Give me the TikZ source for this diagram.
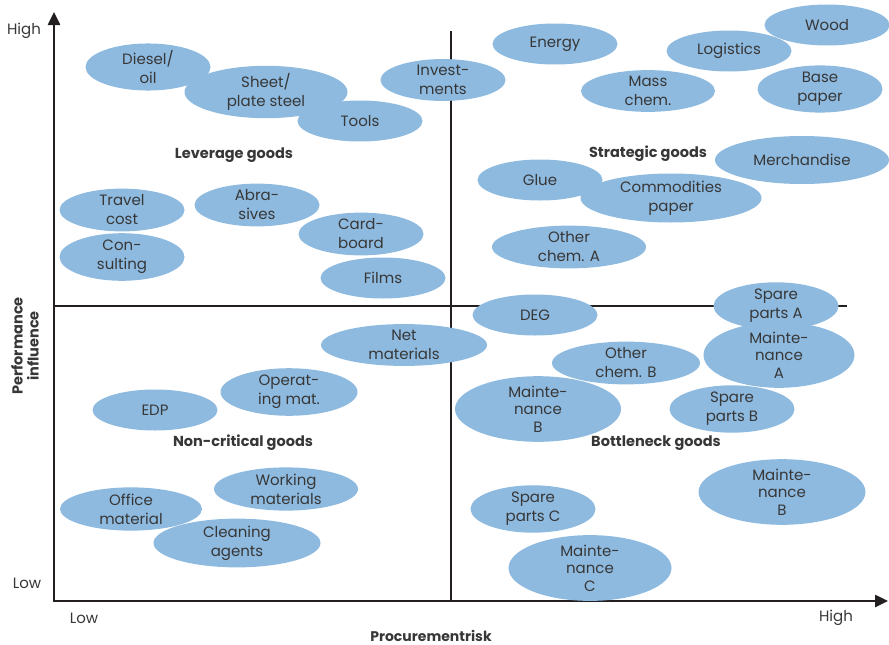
\documentclass[tikz,border=0pt]{standalone}
\usepackage{fontspec}
\setmainfont{Poppins}
\usepackage{xcolor}
\usetikzlibrary{arrows.meta,shapes.geometric}
\definecolor{goodblue}{RGB}{142,186,224}
\definecolor{axisgray}{RGB}{35,31,32}
\definecolor{textgray}{RGB}{55,55,55}

\begin{document}
\begin{tikzpicture}[
  x=1pt, y=-1pt,
  font=\fontsize{15}{19}\selectfont,
  good/.style={ellipse, fill=goodblue, inner sep=0pt, align=center, text=textgray,
    minimum width=125pt, minimum height=41pt},
  three/.style={font=\fontsize{15}{17.5}\selectfont},
  quad/.style={font=\fontsize{14.5}{16}\selectfont\bfseries, text=textgray, align=center},
  tick/.style={text=textgray},
  axis/.style={draw=axisgray, line width=2.5pt}
]
\useasboundingbox (0,0) rectangle (889,645);
% axes and quadrant lines
\coordinate (origin) at (54,601);
\coordinate (ytip) at (54,12);
\coordinate (xtip) at (888,601);
\coordinate (midtop) at (451,31);
\coordinate (midbot) at (451,601);
\coordinate (midleft) at (54,306);
\coordinate (midright) at (847,306);
\draw[axis, line width=2pt] (midtop) -- (midbot);
\draw[axis, line width=2pt] (midleft) -- (midright);
\draw[axis, {Triangle[length=13pt,width=12pt]}-{Triangle[length=13pt,width=12pt]}] (ytip) -- (origin) -- (xtip);

% axis texts
\node[tick] (yhigh) at (24,31) {High};
\node[tick] (ylow) at (27,583) {Low};
\node[tick] (xlow) at (84,618) {Low};
\node[tick] (xhigh) at (836,618) {High};
\node[quad, font=\fontsize{14}{16}\selectfont\bfseries] (xlabel) at (431,636) {Procurementrisk};
\node[quad, rotate=90, font=\fontsize{14.5}{16}\selectfont\bfseries] (ylabel) at (25,346) {Performance\\influence};

% leverage goods
\node[good] (diesel) at (148,67) {Diesel/\\oil};
\node[good] (tools) at (360,121) {Tools};
\node[good, minimum width=163pt, minimum height=40pt] (sheet) at (266,92) {Sheet/\\plate steel};
\node[good] (invest) at (443,80) {Invest-\\ments};
\node[good] (travel) at (122,210) {Travel\\cost};
\node[good] (consult) at (122,257) {Con-\\sulting};
\node[good] (abrasives) at (257,205) {Abra-\\sives};
\node[good] (cardboard) at (361,234) {Card-\\board};
\node[good] (films) at (383,278) {Films};
\node[quad] (leverage) at (234,155) {Leverage goods};

% strategic goods
\node[good] (energy) at (555,44) {Energy};
\node[good] (wood) at (827,25) {Wood};
\node[good] (logistics) at (729,51) {Logistics};
\node[good, minimum width=134pt] (masschem) at (648,91) {Mass\\chem.};
\node[good] (basepaper) at (820,89) {Base\\paper};
\node[good, minimum width=174pt, minimum height=48pt] (merch) at (802,160) {Merchandise};
\node[good] (glue) at (540,180) {Glue};
\node[good, minimum width=181pt, minimum height=49pt] (commod) at (671,198) {Commodities\\paper};
\node[good, minimum width=154pt, minimum height=38pt] (chemA) at (569,247) {Other\\chem. A};
\node[quad] (strategic) at (648,154) {Strategic goods};

% bottleneck goods
\node[good] (deg) at (535,315) {DEG};
\node[good] (spareA) at (776,306) {Spare\\parts A};
\node[good, three, minimum width=151pt, minimum height=51pt] (maintA) at (779,355) {Mainte-\\nance\\A};
\node[good, minimum width=148pt, minimum height=40pt] (chemB) at (626,363) {Other\\chem. B};
\node[good, three, minimum width=166pt, minimum height=53pt] (maintBl) at (538,409) {Mainte-\\nance\\B};
\node[good] (spareB) at (732,409) {Spare\\parts B};
\node[good, three, minimum width=167pt, minimum height=56pt] (maintBr) at (782,492) {Mainte-\\nance\\B};
\node[good] (spareC) at (533,509) {Spare\\parts C};
\node[good, three, minimum width=163pt, minimum height=52pt] (maintC) at (590,568) {Mainte-\\nance\\C};
\node[quad] (bottleneck) at (656,443) {Bottleneck goods};

% non-critical goods
\node[good, minimum width=166pt, minimum height=40pt] (netmat) at (404,345) {Net\\materials};
\node[good, minimum width=137pt, minimum height=42pt] (opmat) at (289,392) {Operat-\\ing mat.};
\node[good] (edp) at (155,410) {EDP};
\node[good, minimum width=144pt] (workmat) at (286,489) {Working\\materials};
\node[good, minimum width=142pt] (office) at (131,509) {Office\\material};
\node[good, minimum width=167pt, minimum height=42pt] (cleaning) at (237,543) {Cleaning\\agents};
\node[quad] (noncritical) at (243,443) {Non-critical goods};
\end{tikzpicture}
\end{document}
